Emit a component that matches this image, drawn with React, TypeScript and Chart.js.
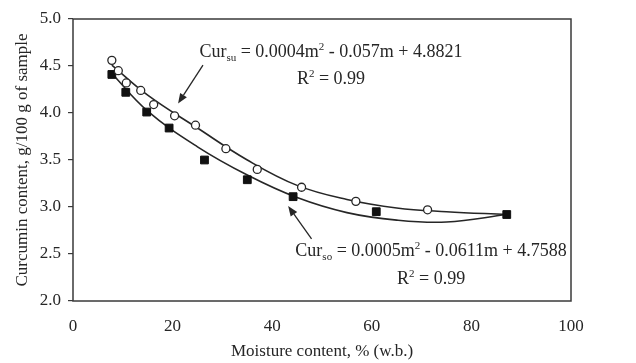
import React, { useEffect, useRef } from 'react';
import { Chart, registerables } from 'chart.js';

Chart.register(...registerables);

// ---- data ----
const sunMoisture = [7.8, 9.1, 10.7, 13.6, 16.2, 20.4, 24.6, 30.7, 37.0, 45.9, 56.8, 71.2];
const sunCurcumin = [4.56, 4.45, 4.32, 4.24, 4.09, 3.97, 3.87, 3.62, 3.40, 3.21, 3.06, 2.97];

const solarMoisture = [7.8, 10.6, 14.8, 19.3, 26.4, 35.0, 44.2, 60.9, 87.1];
const solarCurcumin = [4.41, 4.22, 4.01, 3.84, 3.50, 3.29, 3.11, 2.95, 2.92];

const sunFitMoisture = [7.8, 15, 25, 35, 45, 55, 65, 75, 87.1];
const sunFitCurcumin = [4.51, 4.19, 3.84, 3.50, 3.23, 3.08, 2.99, 2.95, 2.92];

const solarFitMoisture = [7.8, 15, 25, 35, 45, 55, 65, 75, 87.1];
const solarFitCurcumin = [4.42, 4.02, 3.64, 3.34, 3.10, 2.94, 2.86, 2.84, 2.92];

const xTicks = [0, 20, 40, 60, 80, 100];
const yTicks = [2.0, 2.5, 3.0, 3.5, 4.0, 4.5, 5.0];

const xTitle = 'Moisture content, % (w.b.)';
const yTitle = 'Curcumin content, g/100 g of sample';

const sunEquation = { sub: 'su', a: '0.0004', b: '0.057', c: '4.8821', r2: '0.99' };
const solarEquation = { sub: 'so', a: '0.0005', b: '0.0611', c: '4.7588', r2: '0.99' };

// annotation placement (data coordinates)
const sunLabelPos = { x: 51.8, eqY: 4.60, r2Y: 4.31 };
const solarLabelPos = { x: 71.9, eqY: 2.48, r2Y: 2.18 };
const sunArrow = { x1: 26.1, y1: 4.51, x2: 21.1, y2: 4.10 };
const solarArrow = { x1: 47.9, y1: 2.66, x2: 43.2, y2: 3.01 };

const FONT = '"Liberation Serif", "DejaVu Serif", serif';
const TEXT = '#262626';
const INK = '#262626';

const toXY = (xs: number[], ys: number[]) => xs.map((x, i) => ({ x, y: ys[i] }));

type Seg = { t: string; k: 'n' | 'sub' | 'sup' };

function drawSegs(ctx: CanvasRenderingContext2D, segs: Seg[], cx: number, baseline: number, size: number) {
  const small = Math.round(size * 0.62);
  const fontFor = (k: string) => `${k === 'n' ? size : small}px ${FONT}`;
  let total = 0;
  const widths = segs.map((s) => {
    ctx.font = fontFor(s.k);
    const w = ctx.measureText(s.t).width;
    total += w;
    return w;
  });
  let x = cx - total / 2;
  ctx.textAlign = 'left';
  ctx.textBaseline = 'alphabetic';
  ctx.fillStyle = TEXT;
  segs.forEach((s, i) => {
    ctx.font = fontFor(s.k);
    const dy = s.k === 'sub' ? size * 0.22 : s.k === 'sup' ? -size * 0.38 : 0;
    ctx.fillText(s.t, x, baseline + dy);
    x += widths[i];
  });
}

function drawArrow(ctx: CanvasRenderingContext2D, x1: number, y1: number, x2: number, y2: number) {
  const ang = Math.atan2(y2 - y1, x2 - x1);
  const headLen = 10;
  const headW = 4;
  const bx = x2 - headLen * Math.cos(ang);
  const by = y2 - headLen * Math.sin(ang);
  ctx.strokeStyle = INK;
  ctx.lineWidth = 1.3;
  ctx.beginPath();
  ctx.moveTo(x1, y1);
  ctx.lineTo(bx, by);
  ctx.stroke();
  ctx.fillStyle = INK;
  ctx.beginPath();
  ctx.moveTo(x2, y2);
  ctx.lineTo(bx + headW * Math.sin(ang), by - headW * Math.cos(ang));
  ctx.lineTo(bx - headW * Math.sin(ang), by + headW * Math.cos(ang));
  ctx.closePath();
  ctx.fill();
}

const decorPlugin = {
  id: 'decor',
  beforeDatasetsDraw(chart: any) {
    const { ctx, chartArea } = chart;
    ctx.save();
    ctx.strokeStyle = '#3a3a3a';
    ctx.lineWidth = 1.5;
    ctx.strokeRect(chartArea.left, chartArea.top, chartArea.right - chartArea.left, chartArea.bottom - chartArea.top);
    ctx.restore();
  },
  afterDraw(chart: any) {
    const { ctx } = chart;
    const xs = chart.scales.x;
    const ys = chart.scales.y;
    const px = (v: number) => xs.getPixelForValue(v);
    const py = (v: number) => ys.getPixelForValue(v);
    ctx.save();
    const eq = (e: typeof sunEquation): Seg[] => [
      { t: 'Cur', k: 'n' },
      { t: e.sub, k: 'sub' },
      { t: ` = ${e.a}m`, k: 'n' },
      { t: '2', k: 'sup' },
      { t: ` - ${e.b}m + ${e.c}`, k: 'n' },
    ];
    const r2 = (e: typeof sunEquation): Seg[] => [
      { t: 'R', k: 'n' },
      { t: '2', k: 'sup' },
      { t: ` = ${e.r2}`, k: 'n' },
    ];
    drawSegs(ctx, eq(sunEquation), px(sunLabelPos.x), py(sunLabelPos.eqY), 18);
    drawSegs(ctx, r2(sunEquation), px(sunLabelPos.x), py(sunLabelPos.r2Y), 18);
    drawSegs(ctx, eq(solarEquation), px(solarLabelPos.x), py(solarLabelPos.eqY), 18);
    drawSegs(ctx, r2(solarEquation), px(solarLabelPos.x), py(solarLabelPos.r2Y), 18);
    drawArrow(ctx, px(sunArrow.x1), py(sunArrow.y1), px(sunArrow.x2), py(sunArrow.y2));
    drawArrow(ctx, px(solarArrow.x1), py(solarArrow.y1), px(solarArrow.x2), py(solarArrow.y2));
    ctx.restore();
  },
};

export default function App() {
  const ref = useRef<HTMLCanvasElement | null>(null);

  useEffect(() => {
    if (!ref.current) return;
    const chart = new Chart(ref.current, {
      type: 'scatter',
      data: {
        datasets: [
          {
            label: 'sun points',
            data: toXY(sunMoisture, sunCurcumin),
            pointStyle: 'circle',
            pointRadius: 4,
            pointBackgroundColor: '#ffffff',
            pointBorderColor: INK,
            pointBorderWidth: 1.3,
            showLine: false,
            order: 1,
          },
          {
            label: 'solar points',
            data: toXY(solarMoisture, solarCurcumin),
            pointStyle: 'rect',
            pointRadius: 5.5,
            pointBackgroundColor: '#111111',
            pointBorderColor: '#111111',
            pointBorderWidth: 1,
            showLine: false,
            order: 1,
          },
          {
            label: 'sun fit',
            data: toXY(sunFitMoisture, sunFitCurcumin),
            showLine: true,
            pointRadius: 0,
            borderColor: INK,
            borderWidth: 1.6,
            tension: 0.4,
            order: 2,
          },
          {
            label: 'solar fit',
            data: toXY(solarFitMoisture, solarFitCurcumin),
            showLine: true,
            pointRadius: 0,
            borderColor: INK,
            borderWidth: 1.6,
            tension: 0.4,
            order: 2,
          },
        ],
      },
      options: {
        animation: false,
        responsive: true,
        maintainAspectRatio: false,
        layout: { padding: { top: 19, right: 65, left: 0, bottom: 0 } },
        plugins: {
          legend: { display: false },
          tooltip: { enabled: false },
        },
        scales: {
          x: {
            type: 'linear',
            min: xTicks[0],
            max: xTicks[xTicks.length - 1],
            afterBuildTicks: (s: any) => {
              s.ticks = xTicks.map((v) => ({ value: v }));
            },
            ticks: {
              color: TEXT,
              font: { family: FONT, size: 17 },
              padding: 15,
              callback: (v: any) => String(v),
            },
            grid: { display: false, drawTicks: false },
            border: { display: false },
            title: {
              display: true,
              text: xTitle,
              color: TEXT,
              font: { family: FONT, size: 17 },
              padding: { top: 0, bottom: 1 },
            },
            afterFit: (s: any) => {
              s.height = 62;
            },
          },
          y: {
            type: 'linear',
            min: yTicks[0],
            max: yTicks[yTicks.length - 1],
            afterBuildTicks: (s: any) => {
              s.ticks = yTicks.map((v) => ({ value: v }));
            },
            ticks: {
              color: TEXT,
              font: { family: FONT, size: 17 },
              padding: 7,
              callback: (v: any) => Number(v).toFixed(1),
            },
            grid: {
              drawOnChartArea: false,
              drawTicks: true,
              tickLength: 5,
              color: '#3a3a3a',
              lineWidth: 1.2,
            },
            border: { display: false },
            title: {
              display: true,
              text: yTitle,
              color: TEXT,
              font: { family: FONT, size: 17 },
              padding: { top: 12, bottom: 0 },
            },
            afterFit: (s: any) => {
              s.width = 73;
            },
          },
        },
      },
      plugins: [decorPlugin],
    } as any);
    return () => chart.destroy();
  }, []);

  return (
    <div style={{ position: 'fixed', left: 0, top: 0, width: 636, height: 363, background: '#ffffff' }}>
      <canvas ref={ref} />
    </div>
  );
}
